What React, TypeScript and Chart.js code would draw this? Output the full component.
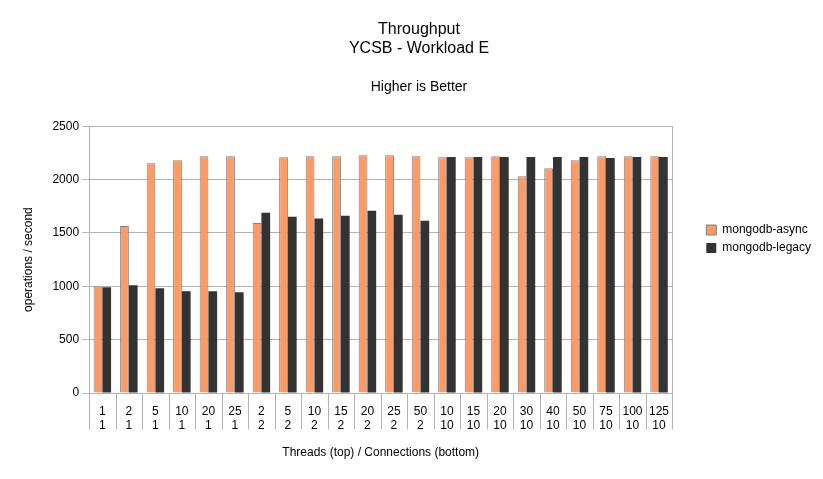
import React, { useEffect, useRef } from "react";
import { Chart, registerables } from "chart.js";

Chart.register(...registerables);

const threads = ["1","2","5","10","20","25","2","5","10","15","20","25","50","10","15","20","30","40","50","75","100","125"];
const connections = ["1","1","1","1","1","1","2","2","2","2","2","2","2","10","10","10","10","10","10","10","10","10"];
const asyncValues = [997,1565,2152,2180,2218,2218,1593,2208,2218,2218,2227,2227,2218,2208,2208,2218,2031,2106,2180,2218,2218,2218];
const legacyValues = [990,1009,981,953,953,944,1690,1652,1634,1662,1708,1671,1615,2211,2211,2211,2211,2211,2211,2202,2211,2211];
const yTicks = [0,500,1000,1500,2000,2500];

const FONT = "'Liberation Sans', Arial, sans-serif";
const GRID = "#b3b3b3";
const LEGEND_GAP = 28;
const LEGEND_SHIFT_Y = 9;
const SEP_LEN = 36;

const frame = {
  id: "frame",
  beforeLayout(chart: any) {
    const lg = chart.legend;
    if (lg && !lg._patched) {
      const orig = lg.fit.bind(lg);
      lg.fit = function () { orig(); this.width += LEGEND_GAP; };
      lg._patched = true;
    }
  },
  afterLayout(chart: any) {
    const lg = chart.legend;
    if (lg) {
      lg.left += LEGEND_GAP;
      lg.top += LEGEND_SHIFT_Y;
      lg.bottom += LEGEND_SHIFT_Y;
    }
  },
  afterDatasetsDraw(chart: any) {
    const { ctx, chartArea, scales } = chart;
    ctx.save();
    ctx.strokeStyle = GRID;
    ctx.lineWidth = 1;
    const l = Math.round(chartArea.left) + 0.5;
    const t = Math.round(chartArea.top) + 0.5;
    const r = Math.round(chartArea.right) + 0.5;
    const b = Math.round(chartArea.bottom) + 0.5;
    ctx.strokeRect(l, t, r - l, b - t);
    const x = scales.x;
    const n = threads.length;
    ctx.beginPath();
    for (let i = 0; i <= n; i++) {
      let px;
      if (i === 0) px = l;
      else if (i === n) px = r;
      else px = Math.round((x.getPixelForValue(i - 1) + x.getPixelForValue(i)) / 2) + 0.5;
      ctx.moveTo(px, b);
      ctx.lineTo(px, b + SEP_LEN);
    }
    ctx.stroke();
    ctx.restore();
  },
};

export default function App() {
  const ref = useRef<HTMLCanvasElement>(null);
  useEffect(() => {
    document.body.style.margin = "0";
    const labels = threads.map((t, i) => [t, connections[i]]);
    const chart = new Chart(ref.current!, {
      type: "bar",
      data: {
        labels,
        datasets: [
          { label: "mongodb-async", data: asyncValues, backgroundColor: "#ff9966", borderColor: "#808080", borderWidth: 1, borderSkipped: "bottom" },
          { label: "mongodb-legacy", data: legacyValues, backgroundColor: "#333333", borderWidth: 0 },
        ],
      },
      options: {
        animation: false,
        responsive: false,
        maintainAspectRatio: false,
        layout: { padding: { left: 17, right: 2, top: 0, bottom: 19 } },
        datasets: { bar: { categoryPercentage: 0.66, barPercentage: 1 } },
        plugins: {
          title: {
            display: true,
            text: ["Throughput", "YCSB - Workload E"],
            color: "#000",
            font: { family: FONT, size: 16, weight: "normal", lineHeight: 1.2 },
            padding: { top: 20, bottom: 20 },
          },
          subtitle: {
            display: true,
            text: "Higher is Better",
            color: "#000",
            font: { family: FONT, size: 14, weight: "normal" },
            padding: { top: 0, bottom: 31 },
          },
          legend: {
            position: "right",
            labels: {
              color: "#000",
              font: { family: FONT, size: 12 },
              boxWidth: 10,
              boxHeight: 10,
              padding: 6,
            },
          },
          tooltip: { enabled: false },
        },
        scales: {
          x: {
            offset: true,
            grid: { offset: true, display: false, drawOnChartArea: false, drawTicks: false },
            border: { display: false },
            ticks: { color: "#000", font: { family: FONT, size: 12, lineHeight: 1.15 }, padding: 12, maxRotation: 0, autoSkip: false },
            title: { display: true, text: "Threads (top) / Connections (bottom)", color: "#000", font: { family: FONT, size: 12 }, padding: { top: 1, bottom: 0 } },
          },
          y: {
            min: 0,
            max: 2500,
            afterBuildTicks: (axis: any) => { axis.ticks = yTicks.map((v) => ({ value: v })); },
            grid: { color: GRID, tickLength: 7 },
            border: { color: GRID },
            ticks: { color: "#000", font: { family: FONT, size: 12 }, padding: 3, callback: (v: any) => String(v) },
            title: { display: true, text: "operations / second", color: "#000", font: { family: FONT, size: 12 }, padding: { bottom: 14 } },
          },
        },
      },
      plugins: [frame],
    } as any);
    return () => chart.destroy();
  }, []);
  return <canvas ref={ref} width={823} height={479} style={{ display: "block", width: 823, height: 479 }} />;
}
